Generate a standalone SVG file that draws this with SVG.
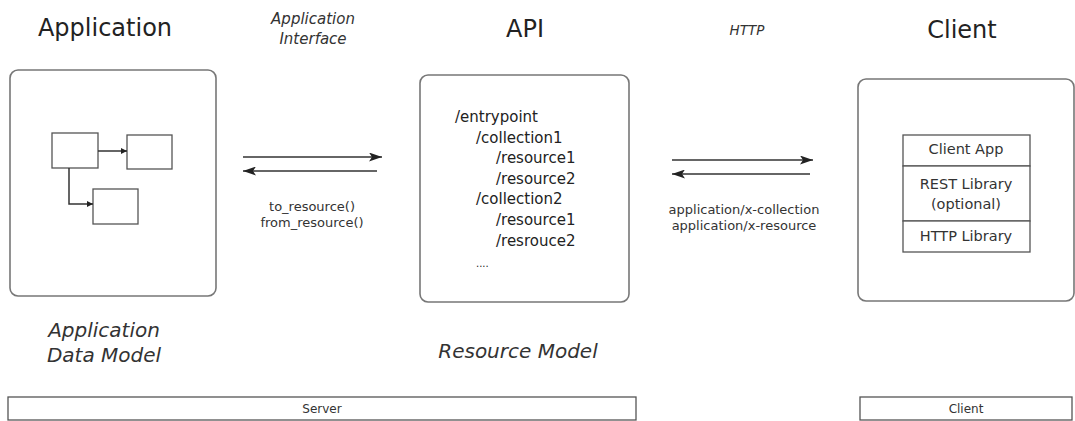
<svg xmlns="http://www.w3.org/2000/svg" width="1075" height="421" viewBox="0 0 1075 421">
<style>
text{font-family:"DejaVu Sans",Verdana,sans-serif;fill:#222}
.title{font-size:24px;text-anchor:middle}
.ital{font-size:15px;font-style:italic;text-anchor:middle;fill:#333}
.big-ital{font-size:20px;font-style:italic;text-anchor:middle;fill:#333}
.lbl{font-size:13px;text-anchor:middle;fill:#333}
.code{font-size:15px;fill:#222}
.box{fill:#fff;stroke:#777;stroke-width:1.6}
.sm{fill:#fff;stroke:#555;stroke-width:1.3}
.ln{stroke:#333;stroke-width:1.5;fill:none}
</style>
<defs>
<marker id="ah" viewBox="0 0 13 9" refX="13" refY="4.5" markerWidth="13" markerHeight="9" markerUnits="userSpaceOnUse" orient="auto">
<path d="M0,0 L13,4.5 L0,9 L3,4.5 Z" fill="#222"/>
</marker>
<marker id="sa" viewBox="0 0 6 6" refX="6" refY="3" markerWidth="6" markerHeight="6" markerUnits="userSpaceOnUse" orient="auto">
<path d="M0,0 L6,3 L0,6 Z" fill="#222"/>
</marker>
</defs>
<rect width="1075" height="421" fill="#fff"/>

<g id="application">
<text class="title" x="105" y="36">Application</text>
<rect class="box" x="10" y="70" width="206" height="226" rx="8"/>
<rect class="sm" x="52" y="133" width="46" height="35"/>
<rect class="sm" x="127" y="135" width="45" height="34"/>
<rect class="sm" x="93" y="189" width="45" height="35"/>
<path class="ln" d="M98,151 H127" stroke-width="1.3" marker-end="url(#sa)"/>
<path class="ln" d="M69,168 V204 H93" stroke-width="1.3" marker-end="url(#sa)"/>
<text class="big-ital" x="104" y="337">Application</text>
<text class="big-ital" x="104" y="362">Data Model</text>
</g>

<g id="api">
<text class="title" x="525" y="37">API</text>
<rect class="box" x="420" y="75" width="209" height="227" rx="8"/>
<text class="code" x="455" y="122">/entrypoint</text>
<text class="code" x="476" y="143">/collection1</text>
<text class="code" x="496" y="163">/resource1</text>
<text class="code" x="496" y="184">/resource2</text>
<text class="code" x="476" y="204">/collection2</text>
<text class="code" x="496" y="225">/resource1</text>
<text class="code" x="496" y="246">/resrouce2</text>
<text class="code" x="476" y="267" style="font-size:10px">....</text>
<text class="big-ital" x="518" y="358">Resource Model</text>
</g>

<g id="client">
<text class="title" x="962" y="38">Client</text>
<rect class="box" x="858" y="79" width="216" height="222" rx="8"/>
<rect class="sm" x="903" y="135" width="127" height="31"/>
<rect class="sm" x="903" y="166" width="127" height="55"/>
<rect class="sm" x="903" y="221" width="127" height="31"/>
<text class="lbl" x="966" y="154" style="font-size:14.5px">Client App</text>
<text class="lbl" x="966" y="189" style="font-size:14.5px">REST Library</text>
<text class="lbl" x="966" y="209" style="font-size:14.5px">(optional)</text>
<text class="lbl" x="966" y="241" style="font-size:14.5px">HTTP Library</text>
</g>

<g id="server-bar">
<rect x="8" y="397" width="628" height="23" fill="#fff" stroke="#555" stroke-width="1.3"/>
<text class="lbl" x="322" y="413" style="font-size:12px">Server</text>
</g>
<g id="client-bar">
<rect x="860" y="397" width="212" height="23" fill="#fff" stroke="#555" stroke-width="1.3"/>
<text class="lbl" x="966" y="413" style="font-size:12px">Client</text>
</g>

<g id="connectors">
<path class="ln" d="M243,157 H382" marker-end="url(#ah)"/>
<path class="ln" d="M377,171 H243" marker-end="url(#ah)"/>
<path class="ln" d="M672,160 H813" marker-end="url(#ah)"/>
<path class="ln" d="M810,174 H672" marker-end="url(#ah)"/>
<text class="ital" x="313" y="24">Application</text>
<text class="ital" x="313" y="44">Interface</text>
<text class="lbl" x="312" y="211">to_resource()</text>
<text class="lbl" x="312" y="227">from_resource()</text>
<text class="ital" x="747" y="35" style="font-size:13.5px">HTTP</text>
<text class="lbl" x="744" y="214">application/x-collection</text>
<text class="lbl" x="744" y="230">application/x-resource</text>
</g>
</svg>
